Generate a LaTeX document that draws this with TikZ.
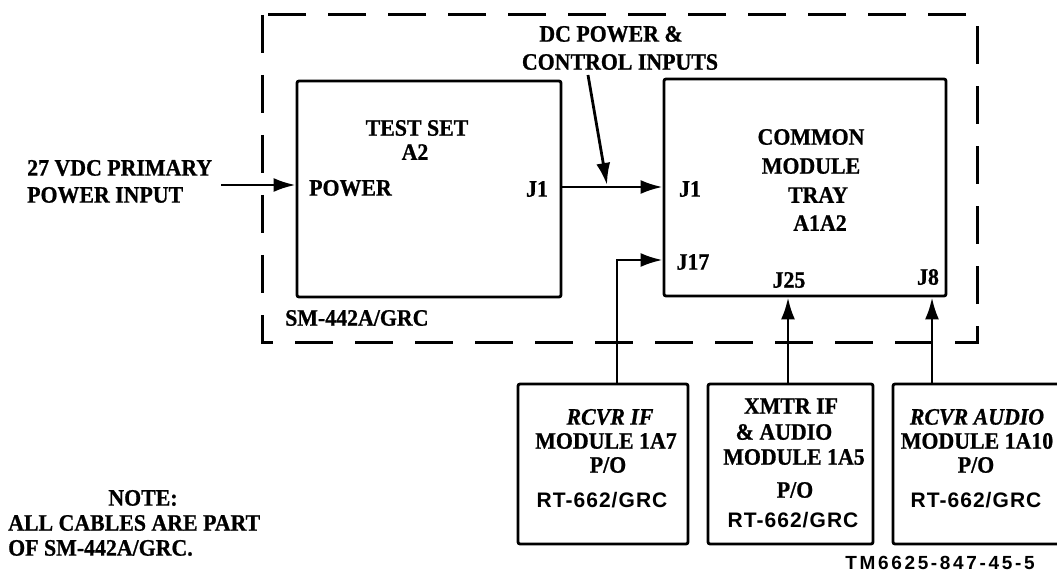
\documentclass[tikz,border=0pt]{standalone}
\usepackage{fontspec}
\setmainfont{Liberation Serif}[FakeStretch=0.93, BoldFeatures={FakeBold=0.8}, BoldItalicFeatures={FakeBold=0.8}]
\setsansfont{Liberation Sans}
\usetikzlibrary{arrows.meta}
\begin{document}
\begin{tikzpicture}[x=1pt,y=-1pt]
\tikzset{
 blk/.style={draw, line width=2.8pt, inner sep=0pt, rounded corners=2pt},
 lbl/.style={font=\fontsize{23.5pt}{25pt}\selectfont\bfseries, inner sep=0pt},
 ilbl/.style={font=\fontsize{23.5pt}{25pt}\selectfont\bfseries\itshape, inner sep=0pt},
 slbl/.style={font=\fontsize{21pt}{24pt}\selectfont\sffamily\bfseries\addfontfeature{LetterSpace=5}, inner sep=0pt},
 tmlbl/.style={font=\fontsize{19pt}{20pt}\selectfont\sffamily\bfseries\addfontfeature{LetterSpace=14}, inner sep=0pt},
 wire/.style={line width=2.8pt},
 arr/.style={wire, -{Latex[length=22pt,width=14pt]}},
 frame/.style={line width=3pt, dash pattern=on 38pt off 22pt},
}
\useasboundingbox (0,0) rectangle (1057,577);
\clip (0,0) rectangle (1057,577);
\fill[white] (0,0) rectangle (1057,577);

% dashed enclosure
\draw[frame] (262,15) rectangle (977,342);

% blocks
\node[blk, minimum width=264pt, minimum height=216pt] (ts) at (429,189) {};
\node[blk, minimum width=282pt, minimum height=217pt] (cmt) at (805,187.5) {};
\node[blk, minimum width=170pt, minimum height=160pt] (b1) at (603,464) {};
\node[blk, minimum width=165pt, minimum height=160pt] (b2) at (790.5,464) {};
\node[blk, minimum width=175pt, minimum height=160pt] (b3) at (980.5,464) {};

% helper coordinates
\coordinate (pin) at (221,185);
\coordinate (j1y) at (0,187);
\coordinate (dcs) at (588,75);
\coordinate (dce) at (607,185);
\coordinate (j17x) at (617,0);
\coordinate (j17y) at (0,260);
\coordinate (j25x) at (788,0);
\coordinate (j8x) at (932,0);

% connectors
\draw[arr] (pin) -- (ts.west |- pin);
\draw[arr] (ts.east |- j1y) -- (cmt.west |- j1y);
\draw[arr] (dcs) -- (dce);
\draw[arr] (b1.north -| j17x) |- (cmt.west |- j17y);
\draw[arr] (b2.north -| j25x) -- (cmt.south -| j25x);
\draw[arr] (b3.north -| j8x) -- (cmt.south -| j8x);

% labels
\node[lbl] (tsa) at (417,128) {TEST SET};
\node[lbl] (tsb) at (415,152) {A2};
\node[lbl, anchor=west] (pia) at (27,168) {27 VDC PRIMARY};
\node[lbl, anchor=west] (pib) at (27,195) {POWER INPUT};
\node[lbl, anchor=west] (pwr) at (309,188) {POWER};
\node[lbl] (tsj1) at (537,189) {J1};
\node[lbl] (cj1) at (690,189) {J1};
\node[lbl] (cj17) at (693,262) {J17};
\node[lbl] (cj25) at (789,280) {J25};
\node[lbl] (cj8) at (928,277) {J8};
\node[lbl] (cma) at (811,137) {COMMON};
\node[lbl] (cmb) at (811,166) {MODULE};
\node[lbl] (cmc) at (818,195) {TRAY};
\node[lbl] (cmd) at (820,223) {A1A2};
\node[lbl] (dca) at (611,34) {DC POWER \&};
\node[lbl] (dcb) at (620,62) {CONTROL INPUTS};
\node[lbl, anchor=west] (sm) at (285,318) {SM-442A/GRC};
\node[lbl] (nta) at (143,498) {NOTE:};
\node[lbl, anchor=west] (ntb) at (8,523) {ALL CABLES ARE PART};
\node[lbl, anchor=west] (ntc) at (8,548) {OF SM-442A/GRC.};

% box 1
\node[ilbl] (b1a) at (610,417) {RCVR IF};
\node[lbl] (b1b) at (606,441) {MODULE 1A7};
\node[lbl] (b1c) at (608,465) {P/O};
\node[slbl] (b1d) at (602,500) {RT-662/GRC};
% box 2
\node[lbl] (b2a) at (791,406) {XMTR IF};
\node[lbl] (b2b) at (784,432) {\& AUDIO};
\node[lbl] (b2c) at (794,457) {MODULE 1A5};
\node[lbl] (b2d) at (795,490) {P/O};
\node[slbl] (b2e) at (793,520) {RT-662/GRC};
% box 3
\node[ilbl] (b3a) at (977,417) {RCVR AUDIO};
\node[lbl] (b3b) at (977,441) {MODULE 1A10};
\node[lbl] (b3c) at (976,465) {P/O};
\node[slbl] (b3d) at (976,500) {RT-662/GRC};

\node[tmlbl] (tm) at (940,563) {TM6625-847-45-5};
\end{tikzpicture}
\end{document}
